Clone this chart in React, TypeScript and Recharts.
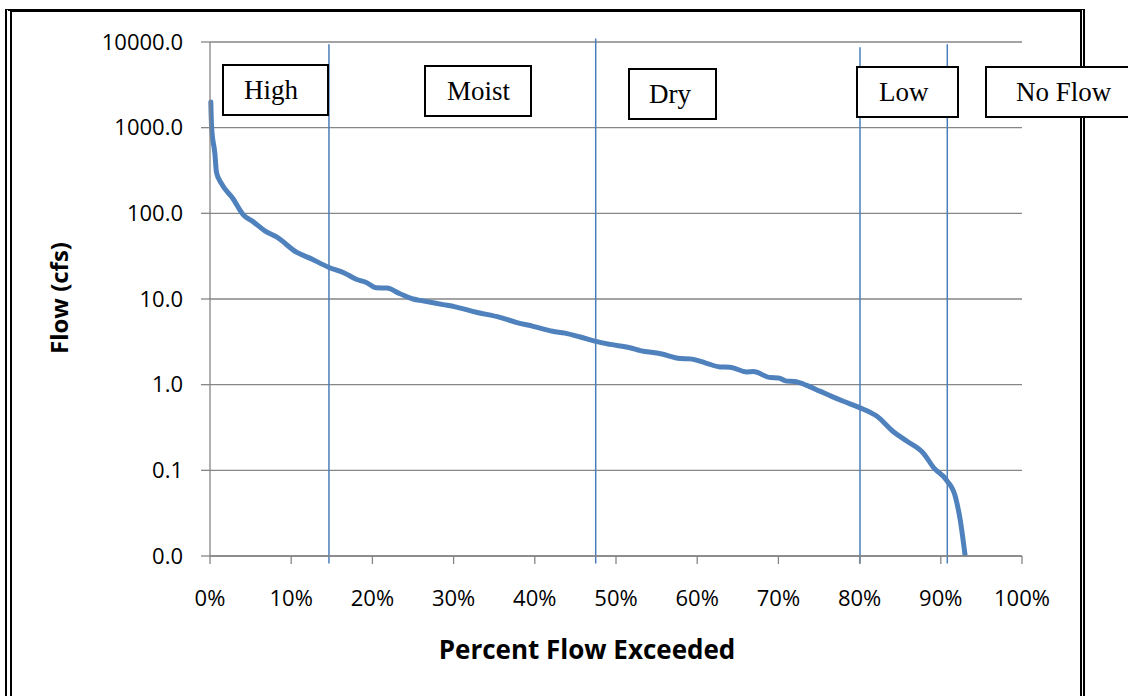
import React from 'react';
import { LineChart, Line, XAxis, YAxis, CartesianGrid, ReferenceLine } from 'recharts';

// flow duration curve
const percentExceeded = [
  0.1, 0.2, 0.6, 0.8, 1.4, 2.8, 4.1, 5.3, 6.8, 8.2, 10.7, 12.3, 14.6, 16.6, 18.0, 19.3, 20.5, 21.8, 23.4,
  25.0, 26.2, 28.7, 30.2, 32.8, 35.7, 37.8, 39.8, 42.2, 43.7, 45.6, 47.5, 49.3, 51.7, 53.0, 55.5, 57.9,
  59.1, 61.0, 62.8, 64.0, 66.1, 66.9, 69.0, 70.0, 71.0, 72.0, 73.5, 75.1, 76.7, 78.0, 80.0, 82.1, 84.2,
  85.8, 87.9, 89.1, 90.7, 91.8, 92.4, 93.0,
];
const flowCfs = [
  2000, 1000, 500, 300, 223, 150, 96, 80, 62, 53, 35, 30, 23.5, 20, 17, 15.5, 13.5, 13.4, 11.5,
  10, 9.5, 8.6, 8.1, 7.0, 6.1, 5.3, 4.8, 4.2, 4.0, 3.6, 3.2, 2.95, 2.7, 2.5, 2.3, 2.02,
  2.0, 1.8, 1.61, 1.6, 1.41, 1.42, 1.21, 1.2, 1.1, 1.09, 0.98, 0.84, 0.72, 0.64, 0.54, 0.43, 0.28,
  0.22, 0.157, 0.108, 0.077, 0.049, 0.026, 0.01,
];

// zone boundaries (percent) and how far each drawn line reaches (cfs)
const boundaryPct = [14.65, 47.5, 80.05, 90.8];
const boundaryTop = [9400, 11000, 8700, 9400];
const boundaryBottom = [0.0082, 0.0082, 0.0082, 0.0082];

const zoneNames = ['High', 'Moist', 'Dry', 'Low', 'No Flow'];

const xTicks = [0, 10, 20, 30, 40, 50, 60, 70, 80, 90, 100];
const yTicks = [0.01, 0.1, 1, 10, 100, 1000, 10000];

const rows = percentExceeded.map((p, i) => ({ pct: p, flow: flowCfs[i] }));

// text box layout (page pixels)
const boxLayout = [
  { left: 222, top: 64, width: 107, pad: 20 },
  { left: 424, top: 65, width: 108, pad: 21 },
  { left: 628, top: 68, width: 89, pad: 19 },
  { left: 856, top: 66, width: 103, pad: 21 },
  { left: 985, top: 66, width: 150, pad: 29 },
];

const sans = '"Open Sans", "Noto Sans", sans-serif';
const gray = '#868686';

export default function App() {
  return (
    <div style={{ position: 'absolute', left: 0, top: 0, width: 1128, height: 696, overflow: 'hidden', background: '#fff' }}>
      <div
        style={{
          position: 'absolute', left: 5, top: 9, width: 1080, height: 687, boxSizing: 'border-box',
          borderTop: '3px solid #000', borderLeft: '7px double #000', borderRight: '5px double #000',
        }}
      />
      <div style={{ position: 'absolute', left: 0, top: 0 }}>
        <LineChart width={1128} height={696} data={rows} margin={{ top: 42, right: 106, bottom: 100, left: 150 }}>
          <CartesianGrid vertical={false} stroke={gray} strokeWidth={1.3} />
          <XAxis
            type="number"
            dataKey="pct"
            domain={[0, 100]}
            ticks={xTicks}
            tickFormatter={(v: number) => `${v}%`}
            axisLine={{ stroke: gray, strokeWidth: 1.3 }}
            tickLine={{ stroke: gray, strokeWidth: 1.3 }}
            tickSize={8}
            tickMargin={26}
            height={40}
            tick={{ fill: '#000', fontSize: 22, fontFamily: sans }}
          />
          <YAxis
            type="number"
            scale="log"
            domain={[0.01, 10000]}
            allowDataOverflow
            ticks={yTicks}
            tickFormatter={(v: number) => v.toFixed(1)}
            axisLine={{ stroke: gray, strokeWidth: 1.3 }}
            tickLine={{ stroke: gray, strokeWidth: 1.3 }}
            tickSize={9}
            tickMargin={18}
            width={60}
            tick={{ fill: '#000', fontSize: 22, fontFamily: sans }}
          />
          {boundaryPct.map((p, i) => (
            <ReferenceLine
              key={p}
              segment={[{ x: p, y: boundaryBottom[i] }, { x: p, y: boundaryTop[i] }]}
              stroke="#4a7ebb"
              strokeWidth={1.5}
              ifOverflow="visible"
            />
          ))}
          <Line
            type="monotone"
            dataKey="flow"
            stroke="#4f81bd"
            strokeWidth={5}
            strokeLinecap="round"
            strokeLinejoin="round"
            dot={false}
            isAnimationActive={false}
          />
        </LineChart>
      </div>

      {zoneNames.map((name, i) => {
        const b = boxLayout[i];
        return (
          <div
            key={name}
            style={{
              position: 'absolute', left: b.left, top: b.top, width: b.width, height: 52, boxSizing: 'border-box',
              border: '2px solid #000', background: '#fff', display: 'flex', alignItems: 'center',
              paddingLeft: b.pad, fontFamily: '"Liberation Serif", "Times New Roman", serif', fontSize: 27,
              whiteSpace: 'nowrap', color: '#000',
            }}
          >
            {name}
          </div>
        );
      })}

      <div
        style={{
          position: 'absolute', left: 387, top: 631, width: 400, textAlign: 'center',
          fontFamily: sans, fontWeight: 700, fontSize: 26, color: '#000', whiteSpace: 'nowrap',
        }}
      >
        Percent Flow Exceeded
      </div>
      <div
        style={{
          position: 'absolute', left: -41, top: 278, width: 200, height: 40, lineHeight: '40px',
          textAlign: 'center', transform: 'rotate(-90deg)', fontFamily: sans, fontWeight: 700,
          fontSize: 24, color: '#000', whiteSpace: 'nowrap',
        }}
      >
        Flow (cfs)
      </div>
    </div>
  );
}
